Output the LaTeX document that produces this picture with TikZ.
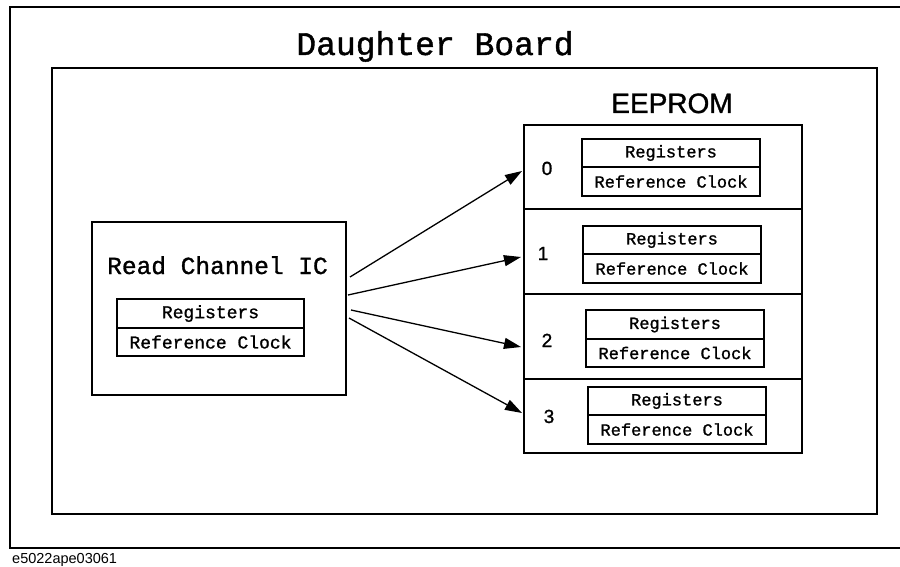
\documentclass[tikz,border=0pt]{standalone}
\usepackage{fontspec}
\setmainfont{Liberation Sans}
\newfontfamily\gothic[FakeBold=1.2]{Liberation Mono}
\newfontfamily\heading[FakeBold=1.2]{Liberation Sans}
\usetikzlibrary{arrows.meta}
\begin{document}
\begin{tikzpicture}[x=1pt,y=-1pt,
  frame/.style={draw,line width=1.6pt},
  box/.style={draw,line width=1.4pt,inner sep=0pt},
  cell/.style={draw,line width=1.2pt,inner sep=0pt,font=\gothic\fontsize{17}{17}\selectfont},
  rccell/.style={cell,font=\gothic\fontsize{18}{18}\selectfont},
  idx/.style={font=\heading\fontsize{19}{19}\selectfont,anchor=base},
  link/.style={line width=1.3pt,-{Triangle[length=17pt,width=11pt]}}]
\useasboundingbox (0,0) rectangle (900,567);
\fill[white] (0,0) rectangle (900,567);
% outer board frame, running off the right edge
\draw[frame] (902,7) -- (10,7) -- (10,548) -- (902,548);
\node[anchor=base] (title) at (435,55) {\gothic\fontsize{33}{33}\selectfont Daughter Board};
% inner area
\node[box,minimum width=825pt,minimum height=446pt] (area) at (464.5,291) {};
% read channel IC
\node[box,minimum width=254pt,minimum height=173pt] (rc) at (219,308.5) {};
\node[anchor=base] (rctitle) at (217.5,274) {\gothic\fontsize{24.5}{24.5}\selectfont Read Channel IC};
\node[rccell,minimum width=187pt,minimum height=29pt] (rcreg) at (210.5,313.5) {Registers};
\node[rccell,minimum width=187pt,minimum height=28pt] (rcclk) at (210.5,342) {Reference Clock};
% EEPROM
\node[anchor=base] (eeprom) at (672,113) {\heading\fontsize{28}{28}\selectfont EEPROM};
\node[box,minimum width=278pt,minimum height=84pt] (row0) at (663,167) {};
\node[box,minimum width=278pt,minimum height=85pt] (row1) at (663,251.5) {};
\node[box,minimum width=278pt,minimum height=85pt] (row2) at (663,336.5) {};
\node[box,minimum width=278pt,minimum height=74pt] (row3) at (663,416) {};
\node[idx] (n0) at (547,175) {0};
\node[idx] (n1) at (543,260) {1};
\node[idx] (n2) at (547,347) {2};
\node[idx] (n3) at (549,423) {3};
\node[cell,minimum width=178pt,minimum height=28pt] (reg0) at (671,153) {Registers};
\node[cell,minimum width=178pt,minimum height=29pt] (clk0) at (671,181.5) {Reference Clock};
\node[cell,minimum width=178pt,minimum height=28pt] (reg1) at (672,240) {Registers};
\node[cell,minimum width=178pt,minimum height=29pt] (clk1) at (672,268.5) {Reference Clock};
\node[cell,minimum width=178pt,minimum height=29pt] (reg2) at (675,324.5) {Registers};
\node[cell,minimum width=178pt,minimum height=28pt] (clk2) at (675,353) {Reference Clock};
\node[cell,minimum width=178pt,minimum height=28pt] (reg3) at (677,401) {Registers};
\node[cell,minimum width=178pt,minimum height=29pt] (clk3) at (677,429.5) {Reference Clock};
% links from the IC to each EEPROM row
\coordinate (s0) at (350,277);
\coordinate (s1) at (348,295);
\coordinate (s2) at (351,310);
\coordinate (s3) at (349,318);
\coordinate (e0) at (522,171);
\coordinate (e1) at (521,257);
\coordinate (e2) at (521,347);
\coordinate (e3) at (522,413);
\draw[link] (s0) -- (e0);
\draw[link] (s1) -- (e1);
\draw[link] (s2) -- (e2);
\draw[link] (s3) -- (e3);
\node[anchor=base west,inner sep=0pt] (tag) at (12,563) {\fontsize{14.5}{14.5}\selectfont e5022ape03061};
\end{tikzpicture}
\end{document}
